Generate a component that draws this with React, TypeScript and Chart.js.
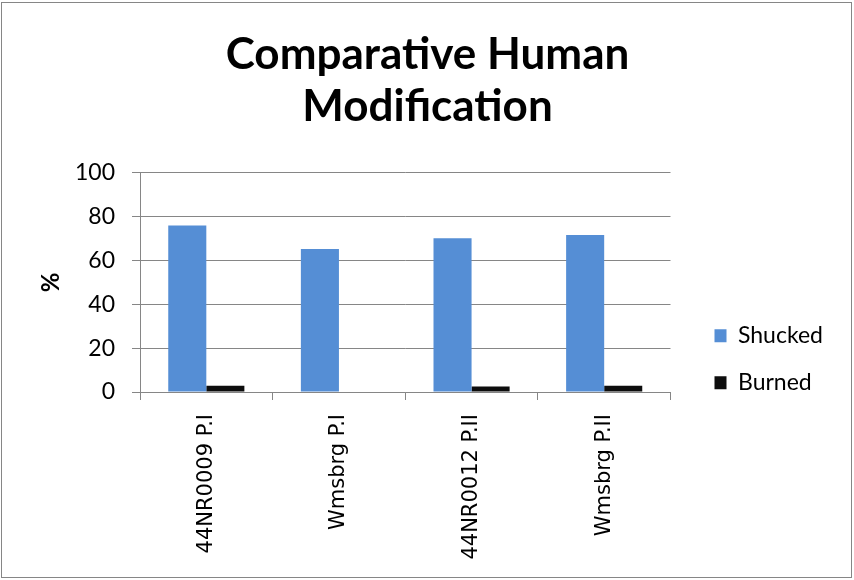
import React, { useEffect, useRef } from "react";
import { Chart, registerables } from "chart.js";

Chart.register(...registerables);

const categories = ["44NR0009 P.I", "Wmsbrg P.I", "44NR0012 P.II", "Wmsbrg P.II"];
const shucked = [76.0, 65.3, 70.2, 71.6];
const burned = [2.8, 0, 2.5, 2.8];
const titleLines = ["Comparative Human", "Modification"];
const yTitle = "%";

const GRID = "#868686";

const outerBorder = {
  id: "outerBorder",
  beforeDraw(chart: any) {
    const ctx = chart.ctx;
    ctx.save();
    ctx.fillStyle = "#ffffff";
    ctx.fillRect(0, 0, chart.width, chart.height);
    ctx.strokeStyle = GRID;
    ctx.lineWidth = 1;
    ctx.strokeRect(1.5, 2.5, 850, 575);
    ctx.restore();
  },
};

export default function App() {
  const ref = useRef<HTMLCanvasElement>(null);
  useEffect(() => {
    document.body.style.margin = "0";
    const chart = new Chart(ref.current as HTMLCanvasElement, {
      type: "bar",
      data: {
        labels: categories,
        datasets: [
          {
            label: "Shucked",
            data: shucked,
            backgroundColor: "#558ED5",
            categoryPercentage: 0.574,
            barPercentage: 1,
            yAxisID: "y",
          },
          {
            label: "Burned",
            data: burned,
            backgroundColor: "#0d0d0d",
            categoryPercentage: 0.574,
            barPercentage: 1,
            yAxisID: "y",
          },
        ],
      },
      options: {
        responsive: false,
        animation: false,
        devicePixelRatio: 1,
        layout: { padding: { left: 33, right: 32, top: 0, bottom: 0 } },
        plugins: {
          title: {
            display: true,
            text: titleLines,
            color: "#000",
            font: { family: "Lato", size: 44, weight: "bold", lineHeight: 1.18 },
            padding: { top: 29, bottom: 40 },
          },
          legend: {
            position: "right",
            title: {
              display: true,
              text: " ",
              font: { family: "Lato", size: 23 },
              padding: { top: 111, bottom: 0 },
            },
            labels: {
              color: "#000",
              font: { family: "Lato", size: 23 },
              boxWidth: 12,
              boxHeight: 13,
              padding: 24,
            },
          },
          tooltip: { enabled: false },
        },
        scales: {
          x: {
            grid: {
              offset: true,
              drawOnChartArea: false,
              drawTicks: true,
              tickLength: 8,
              color: GRID,
            },
            border: { color: GRID },
            ticks: {
              minRotation: 90,
              maxRotation: 90,
              color: "#000",
              font: { family: "DejaVu Sans", size: 21 },
              padding: 14,
            },
            afterFit: (s: any) => {
              s.height = 188;
            },
          },
          y: {
            min: 0,
            max: 100,
            ticks: {
              stepSize: 20,
              color: "#000",
              font: { family: "Lato", size: 23 },
              padding: 17,
            },
            grid: { color: GRID, tickLength: 8 },
            border: { color: GRID },
            title: {
              display: true,
              text: yTitle,
              color: "#000",
              font: { family: "Lato", size: 24, weight: "bold" },
            },
            afterFit: (s: any) => {
              s.width = 107;
            },
          },
          spacer: {
            type: "linear",
            position: "right",
            display: true,
            grid: { display: false, drawTicks: false },
            border: { display: false },
            ticks: { display: false },
            afterFit: (s: any) => {
              s.width = 20;
            },
          },
        },
      } as any,
      plugins: [outerBorder],
    });
    return () => chart.destroy();
  }, []);
  return (
    <canvas
      ref={ref}
      width={854}
      height={580}
      style={{ display: "block", width: 854, height: 580 }}
    />
  );
}
